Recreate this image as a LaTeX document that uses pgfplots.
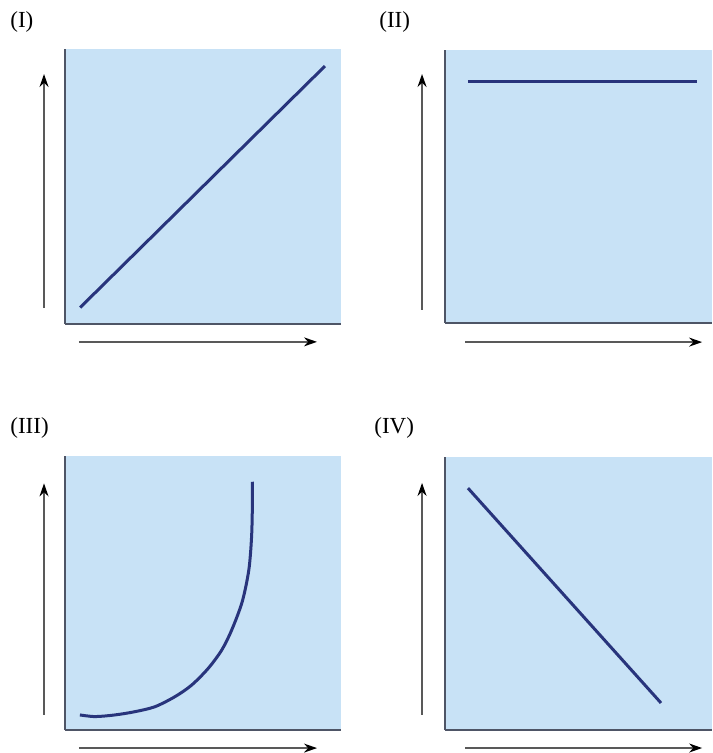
\documentclass[border=0pt]{standalone}
\usepackage{pgfplots}
\pgfplotsset{compat=1.18}
\usepackage{fontspec}
\setmainfont{Liberation Serif}
\usetikzlibrary{arrows.meta}
\definecolor{bgblue}{HTML}{C8E2F6}
\definecolor{curvecol}{HTML}{28347C}
\definecolor{framecol}{HTML}{4E5566}
\pgfplotsset{
  panel/.style={scale only axis, xmin=0, xmax=10, ymin=0, ymax=10,
    axis lines*=left, xtick=\empty, ytick=\empty,
    axis background/.style={fill=bgblue},
    axis line style={draw=framecol, line width=0.8pt},
    clip=false, anchor=south west},
  curveline/.style={curvecol, line width=1.5pt, no markers},
}
\tikzset{guide/.style={draw=black!65, line width=0.8pt, -{Stealth[length=6.5pt,width=4.5pt,black]}}}
\begin{document}
\begin{tikzpicture}
\useasboundingbox (0,0) rectangle (356pt,376.5pt);
\tikzset{lab/.style={anchor=west, inner sep=0pt, font=\fontsize{11.5}{13}\selectfont}}
\node[lab] at (5pt,365.5pt) {(I)};
\node[lab] at (189.5pt,365.5pt) {(II)};
\node[lab] at (5pt,162.5pt) {(III)};
\node[lab] at (187pt,162.5pt) {(IV)};

% Panel I
\begin{axis}[panel, at={(32.5pt,214.5pt)}, width=138pt, height=137.5pt]
\addplot[curveline] coordinates {(0.55,0.6) (9.42,9.38)};
\draw[guide] (axis cs:-0.76,0.58) -- (axis cs:-0.76,9.09);
\draw[guide] (axis cs:0.5,-0.65) -- (axis cs:9.13,-0.65);
\end{axis}

% Panel II
\begin{axis}[panel, at={(222.5pt,215pt)}, width=133.5pt, height=136.5pt]
\addplot[curveline] coordinates {(0.86,8.83) (9.44,8.83)};
\draw[guide] (axis cs:-0.86,0.48) -- (axis cs:-0.86,9.12);
\draw[guide] (axis cs:0.75,-0.70) -- (axis cs:9.63,-0.70);
\end{axis}

% Panel III
\begin{axis}[panel, at={(32.5pt,11.5pt)}, width=138pt, height=137pt]
\addplot[curveline, smooth] coordinates {
(0.54,0.55) (1.09,0.49) (1.81,0.55) (2.54,0.67) (3.26,0.85) (3.99,1.22)
(4.59,1.64) (5.19,2.25) (5.68,2.92) (6.04,3.65) (6.42,4.68) (6.66,5.84)
(6.76,7.05) (6.79,8.27) (6.79,9.06)};
\draw[guide] (axis cs:-0.76,0.55) -- (axis cs:-0.76,9.0);
\draw[guide] (axis cs:0.5,-0.66) -- (axis cs:9.13,-0.66);
\end{axis}

% Panel IV
\begin{axis}[panel, at={(222.5pt,11.5pt)}, width=133.5pt, height=136.5pt]
\addplot[curveline] coordinates {(0.86,8.86) (8.09,0.99)};
\draw[guide] (axis cs:-0.86,0.55) -- (axis cs:-0.86,9.05);
\draw[guide] (axis cs:0.75,-0.66) -- (axis cs:9.63,-0.66);
\end{axis}
\end{tikzpicture}
\end{document}
